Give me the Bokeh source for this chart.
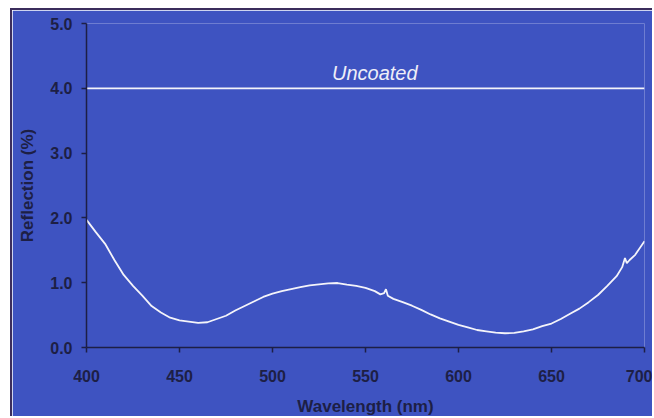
from bokeh.plotting import figure
from bokeh.models import FixedTicker, Range1d
from bokeh.core.properties import value
from bokeh.embed import file_html
from bokeh.resources import INLINE

# ---- data ----
wavelength = [400, 405, 410, 415, 420, 425, 430, 435, 440, 445, 450, 455, 460, 465,
              470, 475, 480, 485, 490, 495, 500, 505, 510, 515, 520, 525, 530, 535,
              540, 545, 550, 555, 558, 560, 561, 562, 565, 570, 575, 580, 585, 590,
              595, 600, 605, 610, 615, 620, 625, 630, 635, 640, 645, 650, 655, 660,
              665, 670, 675, 680, 685, 688, 689.5, 690.5, 692, 695, 700]
reflection = [1.97, 1.78, 1.60, 1.35, 1.12, 0.95, 0.80, 0.64, 0.54, 0.46, 0.42, 0.40, 0.38, 0.39,
              0.44, 0.49, 0.57, 0.64, 0.71, 0.78, 0.83, 0.87, 0.90, 0.93, 0.96, 0.975, 0.99, 0.995,
              0.97, 0.95, 0.92, 0.87, 0.82, 0.84, 0.90, 0.80, 0.75, 0.70, 0.645, 0.58, 0.51, 0.45,
              0.40, 0.35, 0.31, 0.27, 0.25, 0.23, 0.22, 0.225, 0.25, 0.28, 0.33, 0.37, 0.44, 0.52,
              0.60, 0.70, 0.81, 0.95, 1.10, 1.24, 1.38, 1.30, 1.35, 1.43, 1.64]

uncoated_x = [400, 700]
uncoated_y = [4.0, 4.0]
uncoated_label = "Uncoated"
uncoated_label_x = 555

x_ticks = [400, 450, 500, 550, 600, 650, 700]
y_ticks = [0, 1, 2, 3, 4, 5]
y_tick_labels = ["0.0", "1.0", "2.0", "3.0", "4.0", "5.0"]

BLUE = "#3e53c1"
DARK = "#1d1f45"
FONT = "Liberation Sans"

p = figure(width=642, height=408, output_backend="svg", toolbar_location=None,
           x_range=Range1d(400, 700), y_range=Range1d(0, 5),
           min_border_left=74, min_border_right=10, min_border_top=13, min_border_bottom=70,
           styles={"margin-top": "8px", "margin-left": "10px",
                   "border-top": "2px solid #3b2d5c", "border-left": "2px solid #3b2d5c"})
p.background_fill_color = BLUE
p.border_fill_color = BLUE
p.outline_line_color = None
p.grid.visible = False

p.line(uncoated_x, uncoated_y, line_color="#f4f4fa", line_width=1.8)
p.line(wavelength, reflection, line_color="#f4f4fa", line_width=1.8)
p.text(x=[uncoated_label_x], y=[uncoated_y[0]], text=[uncoated_label],
       text_font=value(FONT), text_font_style="italic", text_font_size="20px",
       text_color="#eeeef8", text_align="center", text_baseline="alphabetic", y_offset=-15)

for ax in (p.xaxis[0], p.yaxis[0]):
    ax.axis_line_color = DARK
    ax.axis_line_width = 1.5
    ax.major_tick_line_color = DARK
    ax.major_tick_line_width = 1.5
    ax.major_tick_in = 0
    ax.major_tick_out = 5
    ax.minor_tick_line_color = None
    ax.major_label_text_font = FONT
    ax.major_label_text_font_style = "bold"
    ax.major_label_text_font_size = "16px"
    ax.major_label_text_color = DARK
    ax.axis_label_text_font = FONT
    ax.axis_label_text_font_style = "bold"
    ax.axis_label_text_font_size = "17px"
    ax.axis_label_text_color = DARK

p.xaxis.ticker = FixedTicker(ticks=x_ticks)
p.yaxis.ticker = FixedTicker(ticks=y_ticks)
p.yaxis.major_label_overrides = {t: l for t, l in zip(y_ticks, y_tick_labels)}
p.xaxis.major_label_standoff = 17
p.yaxis.major_label_standoff = 9
p.xaxis.axis_label_standoff = 12
p.yaxis.axis_label_standoff = 10
p.xaxis.axis_label = "Wavelength (nm)"
p.yaxis.axis_label = "Reflection (%)"

open("out.html", "w").write(file_html(p, INLINE))
